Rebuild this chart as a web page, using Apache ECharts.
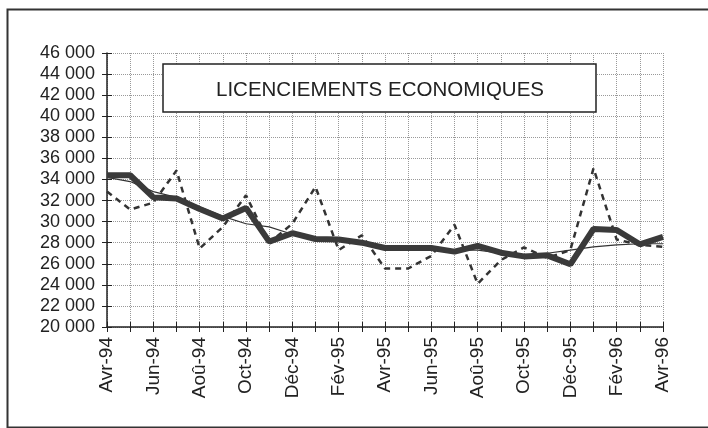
<!DOCTYPE html>
<html>
<head>
<meta charset="utf-8">
<script src="https://cdn.jsdelivr.net/npm/echarts@6/dist/echarts.min.js"></script>
<style>html,body{margin:0;padding:0;background:#fff}#c{width:708px;height:428px}</style>
</head>
<body>
<div id="c"></div>
<script>
const months = ['Avr-94','Mai-94','Jun-94','Jul-94','Aoû-94','Sep-94','Oct-94','Nov-94','Déc-94','Jan-95','Fév-95','Mar-95','Avr-95','Mai-95','Jun-95','Jul-95','Aoû-95','Sep-95','Oct-95','Nov-95','Déc-95','Jan-96','Fév-96','Mar-96','Avr-96'];
const rawValues = [32850,31150,31800,34850,27450,29500,32500,28000,29800,33300,27300,28700,25550,25550,26750,29700,24100,26350,27550,26550,27300,35050,28300,27800,27600];
const smoothedValues = [34400,34400,32300,32200,31200,30300,31300,28100,28900,28350,28300,28000,27500,27500,27500,27150,27700,27050,26700,26800,25950,29300,29200,27850,28550];
const trendValues = [34200,33800,32850,32300,31400,30500,29800,29500,28800,28400,28200,28000,27600,27400,27400,27300,27300,27000,26800,27000,27300,27600,27800,27900,27900];
const titleText = 'LICENCIEMENTS ECONOMIQUES';

const chart = echarts.init(document.getElementById('c'), null, {renderer:'canvas'});
const font = 'Liberation Sans, Arial, sans-serif';
chart.setOption({
  animation:false,
  backgroundColor:'#fff',
  grid:{left:107,right:45,top:53,bottom:101,containLabel:false},
  graphic:[
    {type:'rect',left:5,top:7,shape:{x:0,y:0,width:740,height:418},style:{fill:null,stroke:'#333',lineWidth:2},z:-1},
    {type:'rect',shape:{x:163,y:64,width:433,height:48},style:{fill:'#fff',stroke:'#222',lineWidth:1.5},z:100},
    {type:'text',x:380,y:90,style:{text:titleText,font:'20.5px '+font,fill:'#222',textAlign:'center',textVerticalAlign:'middle'},z:101}
  ],
  xAxis:[{
    type:'category',data:months,boundaryGap:false,
    axisLine:{lineStyle:{color:'#222',width:1.5}},
    axisTick:{show:true,interval:0,length:5,lineStyle:{color:'#222'}},
    axisLabel:{interval:1,rotate:90,fontFamily:font,fontSize:19,color:'#222',margin:10},
    splitLine:{show:true,interval:0,lineStyle:{color:'#999',type:'dotted',width:1}}
  },{
    type:'category',data:months,boundaryGap:false,position:'bottom',
    axisLine:{show:false},
    axisTick:{show:true,inside:true,interval:0,length:5,lineStyle:{color:'#222'}},
    axisLabel:{show:false},splitLine:{show:false}
  }],
  yAxis:[{
    type:'value',min:20000,max:46000,interval:2000,
    axisLine:{show:true,lineStyle:{color:'#222',width:1.5}},
    axisTick:{show:true,length:5,lineStyle:{color:'#222'}},
    axisLabel:{fontFamily:font,fontSize:18,color:'#222',margin:12,
      formatter:v=>String(v).replace(/\B(?=(\d{3})+(?!\d))/g,' ')},
    splitLine:{show:true,lineStyle:{color:'#999',type:'dotted',width:1}}
  },{
    type:'value',min:20000,max:46000,interval:2000,position:'left',
    axisLine:{show:false},
    axisTick:{show:true,inside:true,length:5,lineStyle:{color:'#222'}},
    axisLabel:{show:false},splitLine:{show:false}
  }],
  series:[
    {type:'line',name:'brut',data:rawValues,symbol:'none',lineStyle:{color:'#333',width:2.5,type:[6,5]},z:2},
    {type:'line',name:'tendance',data:trendValues,symbol:'none',lineStyle:{color:'#333',width:1.2},z:3},
    {type:'line',name:'lissé',data:smoothedValues,symbol:'none',lineStyle:{color:'#3a3a3a',width:6},z:4}
  ]
});
</script>
</body>
</html>
